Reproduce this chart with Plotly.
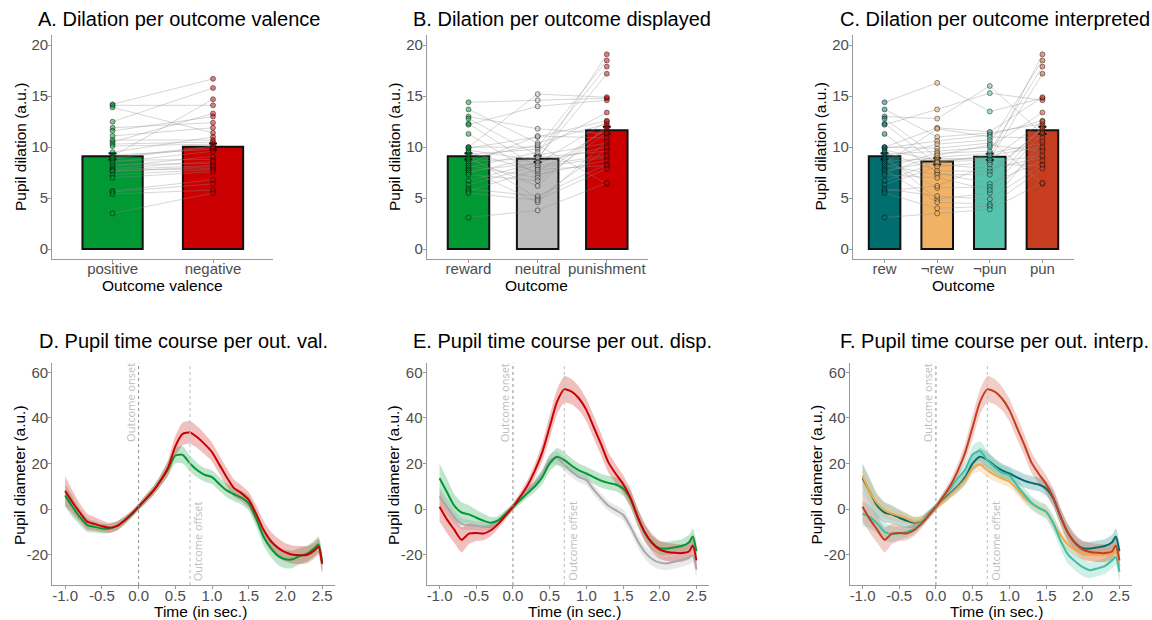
import plotly.graph_objects as go

W, H = 1152, 620

# ---------------- data: top row (bar + subject points) ----------------
valence_cats = ["positive", "negative"]
valence_means = [9.1, 10.05]
valence_se = [0.3, 0.3]
positive = [14.2, 14.1, 13.9, 12.5, 11.9, 11.6, 11.1, 10.7, 10.5, 10.3, 10.1, 9.5, 9.2, 9.1, 9.0,
            8.9, 8.7, 8.5, 8.3, 8.1, 7.9, 7.8, 7.7, 7.6, 7.3, 7.0, 5.7, 5.6, 5.4, 3.5]
negative = [16.7, 14.1, 11.4, 15.8, 12.4, 13.0, 11.9, 10.7, 13.3, 10.5, 10.3, 11.0, 9.8, 14.7, 10.1,
            10.0, 8.8, 9.6, 8.4, 9.1, 8.6, 8.2, 7.9, 8.1, 7.8, 7.6, 6.8, 6.4, 5.8, 5.5]

displayed_cats = ["reward", "neutral", "punishment"]
displayed_means = [9.1, 8.85, 11.65]
displayed_se = [0.3, 0.3, 0.35]
reward = [14.4, 13.7, 13.0, 12.8, 12.3, 12.2, 11.3, 10.0, 10.0, 9.9, 9.7, 9.5, 9.3, 9.1, 8.9,
          8.8, 8.6, 8.4, 8.2, 8.0, 7.8, 7.7, 7.5, 7.3, 6.7, 6.3, 5.9, 5.7, 5.5, 3.1]
neutral = [14.6, 10.4, 11.8, 9.2, 8.0, 14.0, 7.3, 15.2, 10.0, 11.0, 8.7, 7.6, 9.8, 5.0, 10.2,
           6.2, 8.9, 11.1, 7.0, 9.5, 4.6, 8.4, 9.0, 6.7, 8.5, 8.2, 5.2, 7.8, 4.8, 3.8]
punishment = [14.8, 12.3, 11.3, 10.4, 9.0, 14.6, 8.7, 14.9, 18.5, 12.6, 19.1, 11.7, 13.4, 9.8, 6.4,
              12.1, 17.2, 10.9, 11.9, 17.9, 10.6, 12.5, 9.6, 11.4, 10.0, 9.2, 8.3, 8.2, 7.9, 6.5]

interp_cats = ["rew", "¬rew", "¬pun", "pun"]
interp_means = [9.1, 8.6, 9.05, 11.65]
interp_se = [0.3, 0.3, 0.3, 0.35]
not_rew = [16.3, 11.0, 12.8, 9.0, 8.3, 13.7, 7.5, 11.9, 9.9, 10.6, 8.7, 7.7, 9.6, 4.9, 10.3,
           6.0, 8.9, 11.8, 7.3, 9.4, 4.6, 8.6, 9.2, 7.0, 8.5, 8.1, 5.2, 6.2, 4.0, 3.5]
not_pun = [13.5, 11.4, 16.0, 9.4, 7.9, 15.3, 6.4, 11.5, 10.4, 11.2, 9.0, 7.6, 10.0, 5.5, 10.7,
           6.1, 8.8, 11.0, 7.3, 9.6, 4.4, 8.7, 10.2, 5.8, 9.2, 8.5, 4.9, 8.3, 4.2, 3.9]

# ---------------- data: bottom row (time courses) ----------------
time_s = [-1.0, -0.9, -0.8, -0.7, -0.6, -0.5, -0.4, -0.3, -0.2, -0.1, 0.0, 0.1, 0.2, 0.3, 0.4,
          0.5, 0.6, 0.7, 0.8, 0.9, 1.0, 1.1, 1.2, 1.3, 1.4, 1.5, 1.6, 1.7, 1.8, 1.9, 2.0, 2.1,
          2.2, 2.3, 2.4, 2.45, 2.5]

tc_positive = [6, 1, -3.5, -7, -7.8, -8.5, -8.5, -7.5, -5.3, -2.5, 1, 4.5, 8, 12.5, 17.5,
               23.5, 23.8, 20, 17, 15, 14, 11, 8.2, 6.5, 5, 2.5, -4, -12, -17, -20.5, -22, -22,
               -20.5, -19.5, -17, -15.5, -23.5]
se_positive = [5, 4.5, 3.5, 3, 2.5, 2.2, 2, 2, 1.8, 1.5, 1.5, 1.8, 2, 2.5, 3, 3.5, 3.8, 3.5, 3.2,
               3, 3, 3, 3, 3, 3, 3.2, 3.5, 3.8, 4, 4, 4, 3.8, 3.5, 3.5, 3.5, 3.5, 4]
tc_negative = [8, 3, -1.5, -5.5, -6.5, -7.5, -8.2, -7.5, -5.2, -2.3, 1, 4.5, 8, 12.5, 18,
               27.5, 33, 33.6, 31.5, 28.5, 25, 19.5, 14, 9.2, 7, 4, -2, -9, -14, -17, -19, -20,
               -20.2, -20, -18, -16.5, -24]
se_negative = [6.5, 5, 4, 3.5, 3, 2.5, 2.2, 2, 1.8, 1.5, 1.5, 1.8, 2, 2.5, 3.5, 4.5, 5, 5, 4.8,
               4.5, 4.2, 4, 4, 3.8, 3.5, 3.5, 3.8, 4, 4.2, 4.2, 4, 4, 4, 3.8, 3.5, 3.5, 4]

tc_reward = [13.5, 7.5, 1.5, -1.5, -2.3, -3.8, -5.1, -6, -5, -2.2, 1, 4, 7, 10, 14,
             20, 23, 21.5, 19, 17, 15.6, 14, 12.5, 11.5, 10.8, 9, 4.5, -3.5, -10.5, -15, -17.2,
             -17.3, -16.8, -16.2, -14.5, -12, -18.5]
se_reward = [6.5, 6, 5, 4.5, 4, 3.5, 3, 2.5, 2, 1.8, 1.5, 1.8, 2, 2.5, 3, 3.5, 3.8, 3.5, 3.2,
             3, 3, 3, 3, 3, 3, 3.2, 3.5, 3.5, 3.5, 3.2, 3, 3, 3, 3, 3.2, 3.5, 4]
tc_neutral = [5.5, 1, -3.5, -6.5, -7, -7.3, -7.7, -7.2, -5.3, -2.3, 1, 4.5, 8, 11.5, 15.5,
              21.5, 22.5, 19.5, 16.5, 14, 12.7, 8.5, 4.8, 1.5, -0.5, -2.5, -7.7, -14, -19, -22,
              -23.5, -23.8, -23.1, -22.3, -21.3, -20.2, -26.5]
se_neutral = [4, 3.5, 3, 2.5, 2.2, 2, 2, 1.8, 1.5, 1.3, 1.2, 1.5, 1.8, 2, 2.2, 2.5, 2.8, 2.8, 2.5,
              2.3, 2.2, 2.2, 2.2, 2.2, 2.2, 2.4, 2.6, 2.8, 3, 3, 3, 3, 3, 3, 3, 3, 3.5]
tc_punishment = [1, -4.5, -9, -13.5, -10.8, -10.5, -10.7, -9.3, -6.5, -2.8, 1, 5.5, 10.5, 17, 25,
                 36, 47, 52.5, 51.5, 48.5, 43.5, 36, 28.5, 20.5, 15.5, 11, 5, -3.5, -10.5, -15,
                 -17.8, -18.8, -19.2, -19.3, -18.5, -16, -22.5]
se_punishment = [6.5, 6, 5.8, 5.5, 4.5, 3.5, 3, 2.5, 2, 1.8, 1.5, 2, 2.5, 3, 4, 5, 5.5, 5.8, 5.5,
                 5.2, 5, 5, 4.8, 4.5, 4.2, 4, 4, 4, 4, 4, 4, 4, 4, 3.8, 3.5, 3.5, 4]

tc_not_rew = [14.5, 7.5, 2.5, -0.5, -2, -3, -4.1, -5.5, -4.8, -2.3, 0.6, 3.5, 6.5, 9.5, 13,
              18, 19.5, 17, 15, 13.5, 12, 9, 5.2, 2.5, 0.5, -1, -6.5, -11.5, -15.5, -18, -19.3,
              -20, -20.2, -20.2, -19.5, -18, -25]
se_not_rew = [5, 4.5, 4, 3.5, 3, 2.8, 2.5, 2.2, 1.8, 1.5, 1.3, 1.5, 1.8, 2, 2.5, 2.8, 3, 3, 2.8,
              2.6, 2.5, 2.5, 2.5, 2.5, 2.5, 2.6, 2.8, 3, 3, 3, 3, 3, 3, 3, 3, 3, 3.5]
tc_not_pun = [-2, -3.5, -6.3, -10, -11, -10.6, -10, -8.8, -6.2, -2.7, 1, 5.5, 9.5, 13.5, 17.5,
              24, 25.5, 21.5, 18.5, 16, 14.9, 10.5, 6.5, 2.8, 0.5, -1.2, -6.3, -14, -20, -23,
              -25.5, -26.8, -26, -25, -22.5, -21, -27.5]
se_not_pun = [5.5, 5, 4.5, 4, 3.5, 3, 2.5, 2.2, 1.8, 1.5, 1.3, 1.8, 2.2, 2.6, 3, 3.8, 4.2, 4, 3.5,
              3.2, 3, 3, 3, 3, 3, 3.2, 3.5, 3.8, 4, 4, 3.8, 3.5, 3.5, 3.5, 3.5, 3.5, 4]

x_ticks_time = [-1.0, -0.5, 0.0, 0.5, 1.0, 1.5, 2.0, 2.5]
x_ticktext_time = ["-1.0", "-0.5", "0.0", "0.5", "1.0", "1.5", "2.0", "2.5"]
y_ticks_time = [-20, 0, 20, 40, 60]
y_ticktext_time = ["-20", "0", "20", "40", "60"]
y_ticks_bar = [0, 5, 10, 15, 20]

titles = ["A. Dilation per outcome valence", "B. Dilation per outcome displayed",
          "C. Dilation per outcome interpreted", "D. Pupil time course per out. val.",
          "E. Pupil time course per out. disp.", "F. Pupil time course per out. interp."]

# ---------------- styling ----------------
GREEN = "#009933"
RED = "#CC0000"
GREY = "#BEBEBE"
TEAL = "#006E6E"
ORANGE = "#F2B266"
LTEAL = "#56C4AC"
PUNRED = "#C63D1F"

FONT = "Liberation Sans"
TICK_COL = "#4D4D4D"
AXIS_COL = "#9A9A9A"
RIB_A = 0.25


def rgba(hexcol, a):
    h = hexcol.lstrip("#")
    r, g, b = int(h[0:2], 16), int(h[2:4], 16), int(h[4:6], 16)
    return f"rgba({r},{g},{b},{a})"


def px_x(p):
    return p / W


def px_y(p):
    return 1 - p / H


fig = go.Figure()

# ---------- bar panels ----------
def bar_panel(ax, cats, means, se, subjects, colors):
    xs = list(range(1, len(cats) + 1))
    xa, ya = f"x{ax}", f"y{ax}"
    fig.add_trace(go.Bar(
        x=xs, y=means, width=0.6, xaxis=xa, yaxis=ya,
        marker=dict(color=colors, line=dict(color="#111111", width=2)),
        error_y=dict(type="data", array=se, color="#111111", thickness=2, width=4),
        showlegend=False, hoverinfo="skip"))
    lx, ly = [], []
    n_sub = len(subjects[0])
    for s in range(n_sub):
        for j in range(len(cats)):
            lx.append(xs[j])
            ly.append(subjects[j][s])
        lx.append(None)
        ly.append(None)
    fig.add_trace(go.Scatter(x=lx, y=ly, mode="lines", xaxis=xa, yaxis=ya,
                             line=dict(color="rgba(140,140,140,0.40)", width=0.9),
                             showlegend=False, hoverinfo="skip"))
    for j in range(len(cats)):
        fig.add_trace(go.Scatter(
            x=[xs[j]] * len(subjects[j]), y=subjects[j], mode="markers", xaxis=xa, yaxis=ya,
            marker=dict(size=5, color=rgba(colors[j], 0.5),
                        line=dict(color="rgba(0,0,0,0.55)", width=0.8)),
            showlegend=False, hoverinfo="skip"))


bar_panel(1, valence_cats, valence_means, valence_se, [positive, negative], [GREEN, RED])
bar_panel(2, displayed_cats, displayed_means, displayed_se, [reward, neutral, punishment],
          [GREEN, GREY, RED])
bar_panel(3, interp_cats, interp_means, interp_se, [reward, not_rew, not_pun, punishment],
          [TEAL, ORANGE, LTEAL, PUNRED])


# ---------- time course panels ----------
def tc_panel(ax, series):
    xa, ya = f"x{ax}", f"y{ax}"
    for mean, se, col, fa in series:
        up = [m + s for m, s in zip(mean, se)]
        lo = [m - s for m, s in zip(mean, se)]
        fig.add_trace(go.Scatter(
            x=time_s + time_s[::-1], y=up + lo[::-1], mode="lines", fill="toself",
            fillcolor=rgba(col, fa), line=dict(width=0, shape="spline", smoothing=0.6),
            xaxis=xa, yaxis=ya, showlegend=False, hoverinfo="skip"))
    for mean, se, col, fa in series:
        fig.add_trace(go.Scatter(
            x=time_s, y=mean, mode="lines", line=dict(color=col, width=2, shape="spline",
                                                      smoothing=0.6),
            xaxis=xa, yaxis=ya, showlegend=False, hoverinfo="skip"))


tc_panel(4, [(tc_positive, se_positive, GREEN, RIB_A), (tc_negative, se_negative, RED, RIB_A)])
tc_panel(5, [(tc_neutral, se_neutral, "#A8A8A8", RIB_A), (tc_reward, se_reward, GREEN, RIB_A),
             (tc_punishment, se_punishment, RED, RIB_A)])
tc_panel(6, [(tc_reward, se_reward, TEAL, RIB_A), (tc_not_rew, se_not_rew, "#F0A848", RIB_A),
             (tc_not_pun, se_not_pun, "#3FBFA3", RIB_A),
             (tc_punishment, se_punishment, PUNRED, RIB_A)])

# ---------------- axes ----------------
top_x_dom = [(52.3, 273.3), (427.0, 648.3), (853.0, 1074.0)]
top_y_dom = (35.0, 259.3)
bot_x_dom = [(52.3, 335.0), (426.7, 709.3), (849.7, 1132.3)]
bot_y_dom = (362.7, 585.0)

common_axis = dict(showline=True, linecolor=AXIS_COL, linewidth=1.3, ticks="outside",
                   tickcolor=AXIS_COL, ticklen=3, tickwidth=1, showgrid=False, zeroline=False,
                   tickfont=dict(family=FONT, size=15, color=TICK_COL), fixedrange=True)

layout = dict(width=W, height=H, margin=dict(l=0, r=0, t=0, b=0),
              paper_bgcolor="white", plot_bgcolor="white", showlegend=False,
              font=dict(family=FONT, color="black"))

cats_all = [valence_cats, displayed_cats, interp_cats]
for i in range(3):
    n = len(cats_all[i])
    k = i + 1
    layout[f"xaxis{'' if k == 1 else k}"] = dict(
        common_axis, domain=[px_x(top_x_dom[i][0]), px_x(top_x_dom[i][1])],
        range=[0.4, n + 0.6], tickvals=list(range(1, n + 1)), ticktext=cats_all[i],
        ticklabelstandoff=-7, anchor=f"y{'' if k == 1 else k}")
    layout[f"yaxis{'' if k == 1 else k}"] = dict(
        common_axis, domain=[px_y(top_y_dom[1]), px_y(top_y_dom[0])], range=[-1, 21],
        tickvals=y_ticks_bar, ticklabelstandoff=-3, anchor=f"x{'' if k == 1 else k}")
for i in range(3):
    k = i + 4
    layout[f"xaxis{k}"] = dict(
        common_axis, domain=[px_x(bot_x_dom[i][0]), px_x(bot_x_dom[i][1])],
        range=[-1.175, 2.675], tickvals=x_ticks_time, ticktext=x_ticktext_time,
        ticklabelstandoff=-6, anchor=f"y{k}")
    layout[f"yaxis{k}"] = dict(
        common_axis, domain=[px_y(bot_y_dom[1]), px_y(bot_y_dom[0])], range=[-33.3, 64.2],
        tickvals=y_ticks_time, ticktext=y_ticktext_time, ticklabelstandoff=-3, anchor=f"x{k}")

fig.update_layout(**layout)

# ---------------- vertical markers ----------------
for k in (4, 5, 6):
    fig.add_shape(type="line", xref=f"x{k}", yref=f"y{k} domain", x0=0, x1=0, y0=0, y1=1,
                  line=dict(color="#8E8E8E", width=1, dash="3px,3px"))
    fig.add_shape(type="line", xref=f"x{k}", yref=f"y{k} domain", x0=0.7, x1=0.7, y0=0, y1=1,
                  line=dict(color="#C6C6C6", width=1.2, dash="3px,3px"))
    fig.add_annotation(x=-0.113, y=46.7, xref=f"x{k}", yref=f"y{k}", text="Outcome onset",
                       textangle=-90, showarrow=False, xanchor="center", yanchor="middle",
                       font=dict(family="Open Sans", size=11, color="#BDBDBD"))
    fig.add_annotation(x=0.8, y=-14, xref=f"x{k}", yref=f"y{k}", text="Outcome offset",
                       textangle=-90, showarrow=False, xanchor="center", yanchor="middle",
                       font=dict(family="Open Sans", size=11, color="#BDBDBD"))

# ---------------- titles ----------------
title_x = [36, 410.7, 838, 36.7, 410.7, 838]
title_y = [19, 19, 19, 341.4, 341.4, 341.4]
for t, xx, yy in zip(titles, title_x, title_y):
    fig.add_annotation(x=px_x(xx), y=px_y(yy), xref="paper", yref="paper", text=t,
                       showarrow=False, xanchor="left", yanchor="middle",
                       font=dict(family=FONT, size=20, color="black"))

# ---------------- axis titles ----------------
xt = [("Outcome valence", 162.5, 285.6), ("Outcome", 536.5, 285.6), ("Outcome", 963, 285.6),
      ("Time (in sec.)", 200, 611.3), ("Time (in sec.)", 574.8, 611.3),
      ("Time (in sec.)", 996.3, 611.3)]
for t, xx, yy in xt:
    fig.add_annotation(x=px_x(xx), y=px_y(yy), xref="paper", yref="paper", text=t,
                       showarrow=False, xanchor="center", yanchor="middle",
                       font=dict(family=FONT, size=15.5, color="black"))
yt = [("Pupil dilation (a.u.)", 21, 147), ("Pupil dilation (a.u.)", 395, 147),
      ("Pupil dilation (a.u.)", 820.5, 147), ("Pupil diameter (a.u.)", 19, 475),
      ("Pupil diameter (a.u.)", 393, 475), ("Pupil diameter (a.u.)", 815.5, 475)]
for t, xx, yy in yt:
    fig.add_annotation(x=px_x(xx), y=px_y(yy), xref="paper", yref="paper", text=t,
                       showarrow=False, xanchor="center", yanchor="middle", textangle=-90,
                       font=dict(family=FONT, size=15.5, color="black"))

fig.write_html("out.html")
